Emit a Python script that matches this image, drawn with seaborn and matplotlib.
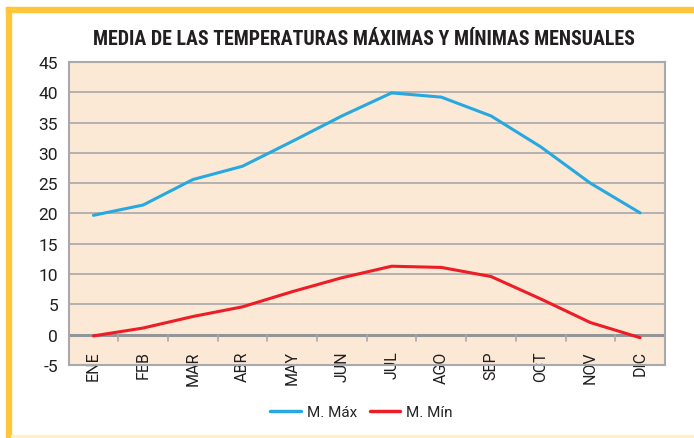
import matplotlib
matplotlib.use("Agg")
import matplotlib.pyplot as plt
import matplotlib.patches as mpatches
import pandas as pd
import seaborn as sns

# Datos
meses = ['ENE', 'FEB', 'MAR', 'ABR', 'MAY', 'JUN', 'JUL', 'AGO', 'SEP', 'OCT', 'NOV', 'DIC']
t_max = [19.7, 21.4, 25.6, 27.8, 31.9, 36.1, 39.9, 39.2, 36.1, 31.0, 25.0, 20.1]
t_min = [-0.2, 1.1, 3.0, 4.6, 7.1, 9.4, 11.3, 11.1, 9.6, 5.9, 2.0, -0.5]
series = ['M. Máx', 'M. Mín']
colores = ['#27A8E0', '#EE1C25']
y_ticks = list(range(-5, 50, 5))

df = pd.DataFrame({
    'mes': meses * 2,
    'valor': t_max + t_min,
    'serie': [series[0]] * len(meses) + [series[1]] * len(meses),
})

sns.set_style("white")
plt.rcParams['font.family'] = ['Roboto', 'DejaVu Sans']
titulo_fuente = ['Roboto Condensed', 'Roboto', 'DejaVu Sans']

fig = plt.figure(figsize=(6.94, 4.39), dpi=100)
ax = fig.add_axes([0.0988, 0.1663, 0.8594, 0.6902])

sns.lineplot(data=df, x='mes', y='valor', hue='serie', palette=colores,
             sort=False, linewidth=2.2, ax=ax, legend=False)

ax.set_facecolor('#FCE9D5')
ax.set_xlim(-0.5, len(meses) - 0.5)
ax.set_ylim(-5, 45)
ax.set_yticks(y_ticks)
ax.set_yticklabels([str(v) for v in y_ticks], fontsize=12.5, color='#231F20')
ax.tick_params(axis='y', length=4.5, width=1.2, color='#A7A9AC', pad=3)
ax.grid(axis='y', color='#A7A9AC', linewidth=1.2)
ax.set_axisbelow(True)
for s in ax.spines.values():
    s.set_color('#A7A9AC')
    s.set_linewidth(1.5)

# eje de categorias sobre el cero
ax.axhline(0, color='#939598', linewidth=2.2, zorder=1.5)
ax.set_xticks(range(len(meses)))
ax.set_xticklabels(meses, rotation=90, fontsize=11.5, color='#231F20', va='top')
ax.tick_params(axis='x', length=0, pad=-10.5)
for i in range(1, len(meses)):
    ax.plot([i - 0.5, i - 0.5], [0, -1.1], color='#A7A9AC', linewidth=1.2, zorder=1.5)
ax.set_xlabel('')
ax.set_ylabel('')

fig.text(0.524, 0.909, 'MEDIA DE LAS TEMPERATURAS MÁXIMAS Y MÍNIMAS MENSUALES',
         ha='center', va='center', fontsize=14.3, fontweight='bold', color='#231F20',
         family=titulo_fuente)

handles = [plt.Line2D([], [], color=c, linewidth=2.5) for c in colores]
fig.legend(handles, series, loc='center', bbox_to_anchor=(0.521, 0.059), ncol=2,
           frameon=False, fontsize=11, handlelength=2.0, columnspacing=0.8,
           handletextpad=0.4)

# marco amarillo
fig.patches.append(mpatches.Rectangle((6 / 694, 0), 5 / 694, 1 - 8 / 439,
                                      transform=fig.transFigure, color='#FFC63A'))
fig.patches.append(mpatches.Rectangle((6 / 694, 1 - 13 / 439), 1, 5 / 439,
                                      transform=fig.transFigure, color='#FFC63A'))
fig.patches.append(mpatches.Rectangle((11 / 694, 0), 1, 3 / 439,
                                      transform=fig.transFigure, color='#FFF1C4'))

fig.savefig('out.png', dpi=100)
